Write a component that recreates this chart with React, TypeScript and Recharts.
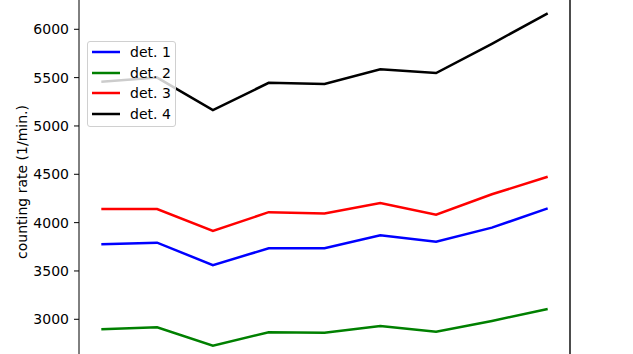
import React from 'react';
import { LineChart, Line, XAxis, YAxis, ReferenceLine } from 'recharts';

// measurement index (x axis is cut off in the reference)
const runs = [0, 1, 2, 3, 4, 5, 6, 7, 8];

const det1 = [3776, 3793, 3560, 3735, 3735, 3870, 3803, 3948, 4148];
const det2 = [2897, 2917, 2727, 2866, 2862, 2931, 2872, 2983, 3107];
const det3 = [4141, 4140, 3913, 4108, 4095, 4203, 4082, 4293, 4475];
const det4 = [5458, 5500, 5165, 5446, 5435, 5587, 5548, 5850, 6165];

const yTicks = [3000, 3500, 4000, 4500, 5000, 5500, 6000];

const series = [
  { key: 'det1', name: 'det. 1', color: '#0000ff' },
  { key: 'det2', name: 'det. 2', color: '#008000' },
  { key: 'det3', name: 'det. 3', color: '#ff0000' },
  { key: 'det4', name: 'det. 4', color: '#000000' },
];

const data = runs.map((x, i) => ({
  x,
  det1: det1[i],
  det2: det2[i],
  det3: det3[i],
  det4: det4[i],
}));

const FONT = '"DejaVu Sans", sans-serif';

const LegendBox = () => (
  <div
    style={{
      position: 'absolute',
      left: 87,
      top: 41,
      width: 89,
      height: 86,
      boxSizing: 'border-box',
      border: '1px solid #d0d0d0',
      borderRadius: 3,
      background: 'rgba(255,255,255,0.8)',
      fontFamily: FONT,
      fontSize: 14,
      color: '#000',
    }}
  >
    {series.map((s, i) => (
      <div
        key={s.key}
        style={{ position: 'absolute', left: 0, top: Math.round(i * 20.6) - 1, height: 22, display: 'flex', alignItems: 'center' }}
      >
        <svg width={42} height={22} style={{ display: 'block' }}>
          <line x1={4} x2={32} y1={11} y2={11} stroke={s.color} strokeWidth={2.5} />
        </svg>
        <span>{s.name}</span>
      </div>
    ))}
  </div>
);

export default function App() {
  return (
    <div style={{ position: 'fixed', left: 0, top: 0, width: 633, height: 354, overflow: 'hidden', background: '#fff' }}>
      <LineChart width={633} height={354} data={data} margin={{ top: 0, right: 63, bottom: 0, left: 0 }}>
        <XAxis dataKey="x" type="number" domain={[-0.4, 8.4]} hide allowDataOverflow />
        <YAxis
          domain={[2641, 6303]}
          allowDataOverflow
          ticks={yTicks}
          width={79}
          stroke="#000"
          tickLine={{ stroke: '#000' }}
          tickSize={5}
          tickMargin={5}
          tick={{ fill: '#000', fontSize: 14, fontFamily: FONT }}
          label={{
            value: 'counting rate (1/min.)',
            angle: -90,
            position: 'center',
            dx: -17,
            dy: 5,
            style: { fill: '#000', fontSize: 14, fontFamily: FONT },
          }}
        />
        <ReferenceLine x={8.4} stroke="#000" strokeWidth={1.4} ifOverflow="visible" />
        {series.map((s) => (
          <Line
            key={s.key}
            dataKey={s.key}
            name={s.name}
            stroke={s.color}
            strokeWidth={2.5}
            dot={false}
            type="linear"
            isAnimationActive={false}
          />
        ))}
      </LineChart>
      <LegendBox />
    </div>
  );
}
